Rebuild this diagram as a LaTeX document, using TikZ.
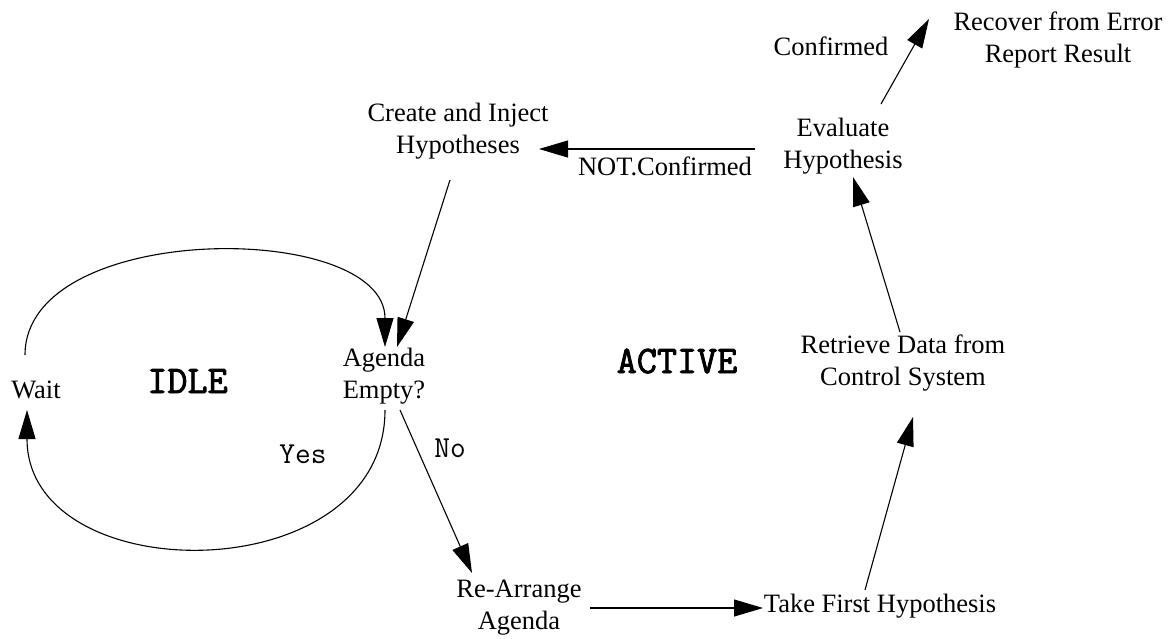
\documentclass[tikz,border=0pt]{standalone}
\usepackage{fontspec}
\setmainfont{Liberation Serif}
\newfontfamily\statefont[FakeBold=2.2]{Latin Modern Mono}
\usetikzlibrary{arrows.meta,calc}
\tikzset{
  lbl/.style={inner sep=0pt, align=center, font=\fontsize{26.5}{32}\selectfont},
  codelbl/.style={inner sep=0pt, font=\ttfamily\fontsize{30.5}{34}\selectfont},
  statelbl/.style={inner sep=0pt, font=\statefont\fontsize{39}{44}\selectfont},
  conn/.style={line width=1.1pt, -{Triangle[length=29pt,width=17pt]}}
}
\begin{document}
\begin{tikzpicture}[x=1pt,y=-1pt]
\useasboundingbox (0,0) rectangle (1171,638);
% nodes
\node[lbl, anchor=north] (rec) at (1058,12) {Recover from Error\\Report Result};
\node[lbl, anchor=base] (conf) at (831,55) {Confirmed};
\node[lbl, anchor=north] (eval) at (843,118) {Evaluate\\Hypothesis};
\node[lbl, anchor=north] (cre) at (458,103) {Create and Inject\\Hypotheses};
\node[lbl, anchor=base] (notc) at (665,175) {NOT.Confirmed};
\node[lbl, anchor=north] (agenda) at (384,348) {Agenda\\Empty?};
\node[lbl, anchor=base] (wait) at (36,398) {Wait};
\node[statelbl, anchor=base] (idle) at (187.5,393) {IDLE};
\node[statelbl, anchor=base] (active) at (677,373) {ACTIVE};
\node[codelbl, anchor=base] (yes) at (303,463) {Yes};
\node[codelbl, anchor=base] (no) at (450,457) {No};
\node[lbl, anchor=north] (rearr) at (519,580) {Re-Arrange\\Agenda};
\node[lbl, anchor=base] (take) at (880,612) {Take First Hypothesis};
\node[lbl, anchor=north] (retr) at (903,335) {Retrieve Data from\\Control System};
% connectors
\draw[conn] ($(eval.north)+(38,-14)$) -- ($(rec.north)+(-129,7)$);
\draw[conn] ($(eval.north)+(-88,31)$) -- ($(cre.north)+(81,46)$);
\draw[conn] ($(cre.north)+(-8,77)$) -- ($(agenda.north)+(13,-1)$);
\draw[conn] ($(agenda.north)+(1,62)$) .. controls +(0,182) and +(0,182) .. ($(wait.base)+(-9,12)$);
\draw[conn] ($(wait.base)+(-11,-43)$) .. controls +(0,-135) and +(0,-127) .. ($(agenda.north)+(1,-1)$);
\draw[conn] ($(agenda.north)+(16,62)$) -- ($(rearr.north)+(-47,-7)$);
\draw[conn] ($(rearr.north)+(71,28)$) -- ($(take.base)+(-117,-4)$);
\draw[conn] ($(take.base)+(-15,-22)$) -- ($(retr.north)+(10,82)$);
\draw[conn] ($(retr.north)+(-3,-3)$) -- ($(eval.north)+(10,59)$);
\end{tikzpicture}
\end{document}
